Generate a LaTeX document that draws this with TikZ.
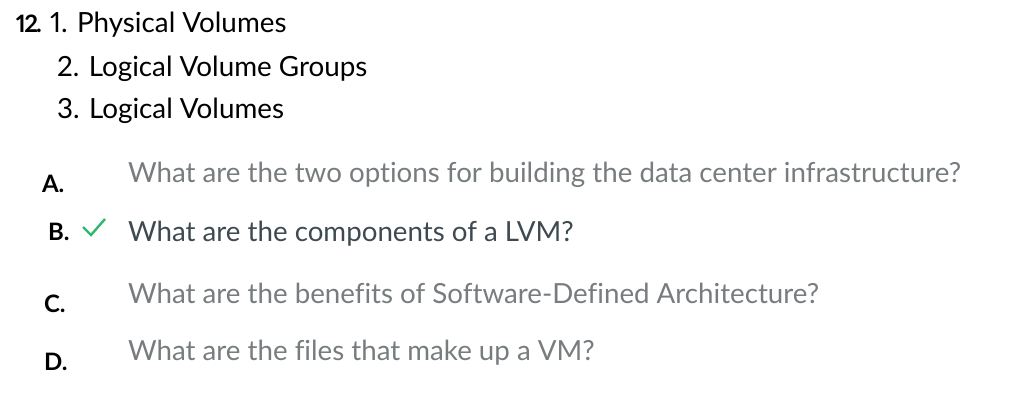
\documentclass[tikz,border=0pt]{standalone}
\usepackage{fontspec}
\setmainfont{Lato}[Ligatures=NoCommon,Numbers=Proportional]
\definecolor{optgray}{HTML}{777C7F}
\definecolor{optdark}{HTML}{3E4A4F}
\definecolor{okgreen}{HTML}{2EB872}
\begin{document}
\begin{tikzpicture}[x=1pt,y=-1pt,
  every node/.style={inner sep=0pt,outer sep=0pt,anchor=base west},
  head/.style={font=\fontsize{27.8}{32}\selectfont, text=black},
  letter/.style={font=\fontsize{24}{28}\selectfont\bfseries, text=black},
  opt/.style={font=\fontsize{27.7}{32}\selectfont, text=optgray},
  optsel/.style={font=\fontsize{27.7}{32}\selectfont, text=optdark}]
\useasboundingbox (0,0) rectangle (1014,416);
\node[head,font=\fontsize{24}{30}\selectfont\bfseries] (num) at (16,32) {1\kern-1.5pt2\kern-2pt.};
\node[head] (l1) at (50,32) {1. Physical Volumes};
\node[head] (l2) at (57,76) {2. Logical Volume Groups};
\node[head] (l3) at (57,118) {3. Logical Volumes};
\node[letter] (la) at (42,192) {A.};
\node[opt] (ta) at (128,182) {What are the two options for building the data center infrastructure?};
\node[letter] (lb) at (48,240) {B.};
\draw[okgreen,line width=2.4pt] (83,227) -- (91,235) -- (105,219);
\node[optsel] (tb) at (128,241) {What are the components of a LVM?};
\node[letter] (lc) at (44,312) {C.};
\node[opt] (tc) at (128,303) {What are the benefits of Software-Defined Architecture?};
\node[letter] (ld) at (44,370) {D.};
\node[opt] (td) at (128,360) {What are the files that make up a VM?};
\end{tikzpicture}
\end{document}
